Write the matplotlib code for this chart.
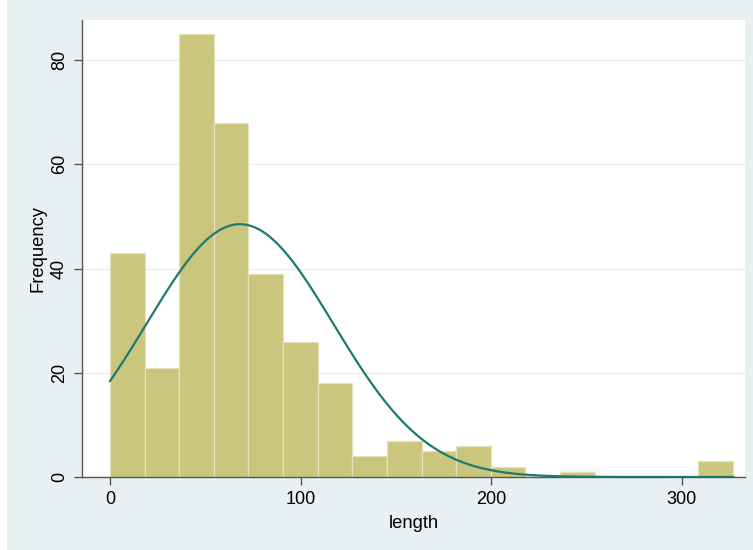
import numpy as np
import matplotlib
matplotlib.use('Agg')
from matplotlib import pyplot as plt
from matplotlib.patches import Rectangle

# histogram of length, 18 bins over the data range
counts = [43, 21, 85, 68, 39, 26, 18, 4, 7, 5, 6, 2, 0, 1, 0, 0, 0, 3]
x_min, x_max = 0.0, 327.0
# normal density overlay (mean, sd of length)
mu, sigma = 68.2, 49.0

n_obs = sum(counts)
edges = np.linspace(x_min, x_max, len(counts) + 1)
width = edges[1] - edges[0]

plt.rcParams['font.family'] = ['Liberation Sans', 'DejaVu Sans']

bg = '#E8F0F2'
fig = plt.figure(figsize=(7.53, 5.50), dpi=100, facecolor=bg)
# thin white strip on the left edge of the graph region
fig.patches.append(Rectangle((0, 0), 7 / 753, 1, transform=fig.transFigure,
                             facecolor='white', edgecolor='none', zorder=0))

ax = fig.add_axes([82 / 753, 73 / 550, 663 / 753, 457 / 550])
ax.set_facecolor('white')

ax.bar(edges[:-1], counts, width=width, align='edge', color='#CAC67E',
       edgecolor='#E6E3BC', linewidth=0.9, zorder=2)

xs = np.linspace(x_min, x_max, 400)
dens = n_obs * width / (sigma * np.sqrt(2 * np.pi)) * np.exp(-0.5 * ((xs - mu) / sigma) ** 2)
ax.plot(xs, dens, color='#1C7A70', linewidth=1.6, zorder=3)

ax.set_xlim(-14.7, 333.3)
ax.set_ylim(0, 87.7)
ax.set_xticks([0, 100, 200, 300])
ax.set_yticks([0, 20, 40, 60, 80])
ax.yaxis.grid(True, color=bg, linewidth=1.0, zorder=1)
ax.set_axisbelow(True)

for s in ['top', 'right']:
    ax.spines[s].set_visible(False)
for s in ['left', 'bottom']:
    ax.spines[s].set_color('#555555')
    ax.spines[s].set_linewidth(1.0)

ax.tick_params(axis='both', direction='out', length=6, width=1.0, color='#555555',
               labelsize=13, pad=4)
for lab in ax.get_yticklabels():
    lab.set_rotation(90)
    lab.set_va('center')

ax.set_xlabel('length', fontsize=13.2, labelpad=5)
ax.set_ylabel('Frequency', fontsize=13.2, labelpad=3)

fig.savefig('out.png', dpi=100, facecolor=bg)
